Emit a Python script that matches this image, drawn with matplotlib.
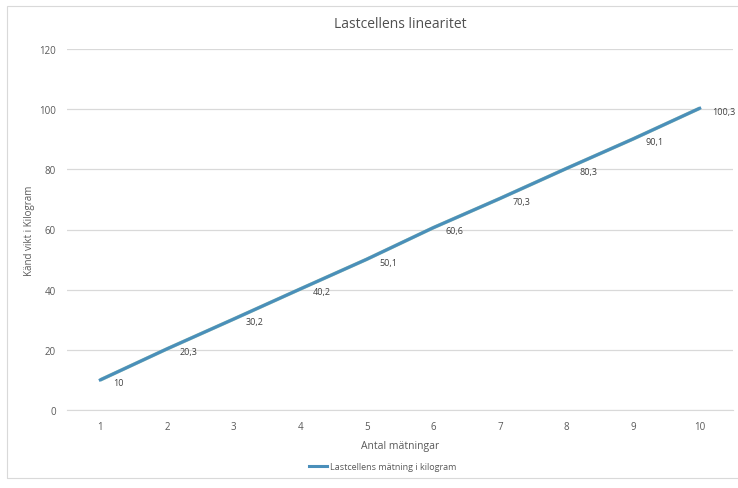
import matplotlib
matplotlib.use("Agg")
import matplotlib.pyplot as plt
from matplotlib.patches import Rectangle

# Lastcellens mätningar (kg) per mätning
matningar = [1, 2, 3, 4, 5, 6, 7, 8, 9, 10]
vikt_kg = [10, 20.3, 30.2, 40.2, 50.1, 60.6, 70.3, 80.3, 90.1, 100.3]
y_ticks = [0, 20, 40, 60, 80, 100, 120]

plt.rcParams["font.family"] = ["Open Sans", "DejaVu Sans"]
GREY = "#595959"
LINE = "#4A8FBA"

fig = plt.figure(figsize=(7.38, 4.89), dpi=100)
fig.patches.append(Rectangle((7 / 738, 10 / 489), 740 / 738, 472 / 489,
                             transform=fig.transFigure, fill=False,
                             edgecolor="#D9D9D9", linewidth=0.8))
ax = fig.add_axes([67 / 738, 1 - 411 / 489, 666 / 738, 361 / 489])

ax.plot(matningar, vikt_kg, color="#5BA08A", linewidth=2.6, alpha=0.6,
        solid_capstyle="butt")
ax.plot(matningar, vikt_kg, color=LINE, linewidth=2.2,
        label="Lastcellens mätning i kilogram")
for x, v in zip(matningar, vikt_kg):
    ax.annotate(f"{v:g}".replace(".", ","), (x, v), xytext=(9, -2),
                textcoords="offset points", ha="left", va="center",
                fontsize=6.5, color="#404040")

ax.set_xlim(0.5, 10.5)
ax.set_ylim(0, 120)
ax.set_xticks(matningar)
ax.set_yticks(y_ticks)
ax.tick_params(length=0, labelsize=7, colors=GREY, pad=8)
ax.grid(axis="y", color="#D9D9D9", linewidth=0.9)
ax.set_axisbelow(True)
for side in ["top", "right", "left"]:
    ax.spines[side].set_visible(False)
ax.spines["bottom"].set_color("#D9D9D9")

ax.set_xlabel("Antal mätningar", fontsize=7.5, color=GREY, labelpad=6)
ax.set_ylabel("Känd vikt i Kilogram", fontsize=7, color=GREY, labelpad=3)
ax.set_title("Lastcellens linearitet", fontsize=10, color="#505050", pad=16)
fig.legend(loc="center", bbox_to_anchor=(383 / 738, 1 - 468 / 489),
           frameon=False, fontsize=6.5, labelcolor=GREY, handlelength=2.0,
           handletextpad=0.3)

fig.savefig("out.png", dpi=100)
